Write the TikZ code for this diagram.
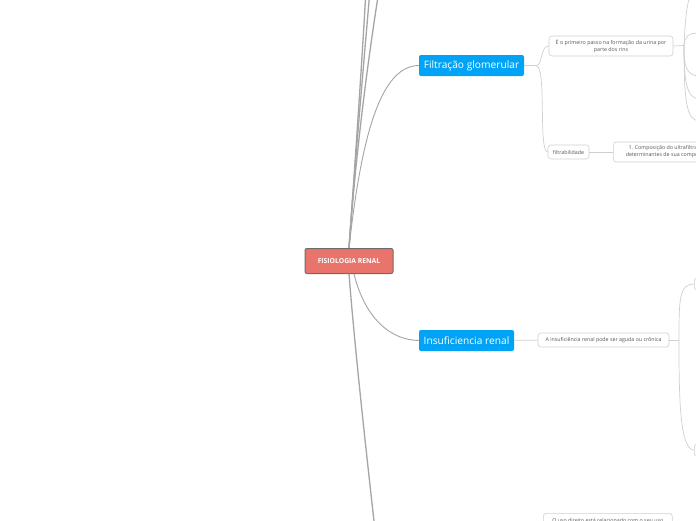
\documentclass[tikz,border=0pt]{standalone}
\usepackage{fontspec}
\setmainfont{Open Sans}
\usepackage{xcolor}
\usepackage{tikz}
\usetikzlibrary{arrows.meta, calc, positioning}

\definecolor{rootred}{RGB}{232,116,108}
\definecolor{topicblue}{RGB}{0,163,245}
\definecolor{linkgray}{RGB}{165,165,165}
\definecolor{notegray}{RGB}{208,208,208}
\definecolor{notetext}{RGB}{85,85,85}

\begin{document}
\begin{tikzpicture}[x=1pt, y=-1pt,
    rootbox/.style={fill=rootred, draw=gray!85!black, line width=1pt, rounded corners=2pt,
        text=white, font=\fontsize{6.8}{8}\selectfont\bfseries,
        minimum width=88pt, minimum height=25pt, inner sep=0pt},
    topic/.style={fill=topicblue, rounded corners=2pt, text=white,
        font=\fontsize{10.2}{12}\selectfont, minimum height=21pt, inner sep=0pt},
    note/.style={draw=notegray, fill=white, line width=0.6pt, rounded corners=3pt,
        text=notetext, font=\fontsize{5.3}{7}\selectfont, align=center, inner sep=0pt},
    mainlink/.style={draw=linkgray, line width=1.3pt},
    sublink/.style={draw=notegray, line width=0.7pt}]

    % area
    \useasboundingbox (0,0) rectangle (696,520);
    \clip (0,0) rectangle (696,520);
    \fill[white] (0,0) rectangle (696,520);

    % nodos
    \node[rootbox] (root) at (349,261) {FISIOLOGIA RENAL};
    \node[topic, minimum width=105pt] (filt) at (471.5,65.5) {Filtração glomerular};
    \node[topic, minimum width=95pt] (insuf) at (466.5,340.5) {Insuficiencia renal};

    \node[note, minimum width=124pt, minimum height=20pt] (primeiro) at (611,46)
        {É o primeiro passo na formação da urina por\\parte dos rins};
    \node[note, minimum width=41pt, minimum height=14pt] (filtrab) at (568.5,152) {filtrabilidade};
    \node[note, anchor=west, minimum width=110pt, minimum height=20pt] (comp) at (613,152)
        {1. Composição do ultrafiltrado e\\determinantes de sua composição};
    \node[note, minimum width=131pt, minimum height=14pt] (ainsuf) at (603.5,340)
        {A insuficiência renal pode ser aguda ou crônica};
    \node[note, anchor=west, minimum width=60pt, minimum height=12pt] (ins1) at (694,284) {};
    \node[note, anchor=west, minimum width=60pt, minimum height=12pt] (ins2) at (694,450) {};
    \node[note, anchor=north west, minimum width=129pt, minimum height=14pt] (uso) at (543,513)
        {O uso direito está relacionado com o seu uso};

    % ramos fora da figura
    \coordinate (up1) at (366,-10);
    \coordinate (up2) at (370,-10);
    \coordinate (up3) at (379,-10);
    \coordinate (dn) at (375,530);

    % ligacoes principais
    \draw[mainlink] (root.north) .. controls (356,150) and (362,60) .. (up1);
    \draw[mainlink] (root.north) .. controls (356,150) and (364,60) .. (up2);
    \draw[mainlink] (root.north) .. controls (356,150) and (368,60) .. (up3);
    \draw[mainlink, line width=0.9pt] (root.north) .. controls (362,130) and (382,66) .. (filt.west);
    \draw[mainlink, line width=0.9pt] ($(root.south)+(5,0)$) .. controls (365,318) and (390,340) .. (insuf.west);
    \draw[mainlink] (root.south) .. controls (355,350) and (366,450) .. (dn);

    % filtracao
    \coordinate (fj) at (536,65.5);
    \draw[sublink] (filt.east) -- (fj) .. controls (543,65.5) and (540,46) .. (primeiro.west);
    \draw[sublink] (fj) .. controls (547,65.5) and (538,152) .. (filtrab.west);
    \draw[sublink] (filtrab) -- (comp);

    \coordinate (pj) at (684,45.5);
    \coordinate (p1) at (690,-5);
    \coordinate (p2) at (700,33);
    \coordinate (p3) at (700,76);
    \coordinate (p4) at (700,99);
    \coordinate (p5) at (700,121);
    \draw[sublink] (primeiro.east) -- (pj);
    \draw[sublink] (pj) .. controls (685,20) and (687,5) .. (p1);
    \draw[sublink] (pj) .. controls (685,36) and (688,33) .. (p2);
    \draw[sublink] (pj) .. controls (684,66) and (686,76) .. (p3);
    \draw[sublink] (pj) .. controls (684,80) and (686,99) .. (p4);
    \draw[sublink] (pj) .. controls (684,100) and (686,121) .. (p5);

    % insuficiencia
    \coordinate (aj) at (679,340);
    \draw[sublink] (insuf) -- (ainsuf);
    \draw[sublink] (ainsuf.east) -- (aj);
    \draw[sublink] (aj) .. controls (679,300) and (679,284) .. (ins1.west);
    \draw[sublink] (aj) .. controls (679,390) and (679,450) .. (ins2.west);
\end{tikzpicture}
\end{document}
